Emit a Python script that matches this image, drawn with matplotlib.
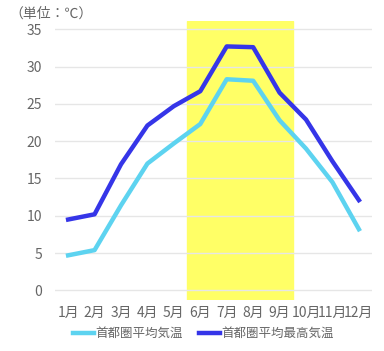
import matplotlib
matplotlib.use("Agg")
import matplotlib.pyplot as plt

plt.rcParams['font.family'] = ['Noto Sans CJK JP', 'DejaVu Sans']

months = ["1月", "2月", "3月", "4月", "5月", "6月", "7月", "8月", "9月", "10月", "11月", "12月"]
avg_temp = [4.7, 5.4, 11.4, 17.0, 19.7, 22.3, 28.3, 28.1, 22.8, 19.0, 14.5, 8.2]
max_temp = [9.5, 10.2, 16.9, 22.1, 24.7, 26.7, 32.7, 32.6, 26.5, 22.9, 17.3, 12.1]
y_ticks = [0, 5, 10, 15, 20, 25, 30, 35]

text_color = "#666666"

fig = plt.figure(figsize=(3.84, 3.51), dpi=100)
ax = fig.add_axes([0.143, 0.145, 0.826, 0.795])

x = list(range(1, len(months) + 1))

# summer highlight (Jun - Sep)
ax.axvspan(5.5, 9.5, color="#ffff66", zorder=0)

ax.plot(x, avg_temp, color="#5dd3f0", lw=3.2, label="首都圏平均気温", zorder=3,
        solid_joinstyle="round")
ax.plot(x, max_temp, color="#3535e8", lw=3.2, label="首都圏平均最高気温", zorder=3,
        solid_joinstyle="round")

ax.set_xlim(0.5, 12.5)
ax.set_ylim(-1.3, 36.1)
ax.set_xticks(x)
ax.set_xticklabels(months)
ax.set_yticks(y_ticks)
for y in y_ticks:
    ax.axhline(y, color="#e6e6e6", lw=1, zorder=1)

for s in ax.spines.values():
    s.set_visible(False)
ax.tick_params(length=0, colors=text_color, labelsize=10)
ax.tick_params(axis="y", pad=9)
ax.tick_params(axis="x", pad=4)

fig.text(0.025, 0.962, "（単位：℃）", color=text_color, fontsize=10, va="center", ha="left")

leg = fig.legend(loc="center", bbox_to_anchor=(0.53, 0.05), ncol=2, frameon=False,
                 fontsize=9, handlelength=1.7, handletextpad=0.1, columnspacing=1.3)
for t in leg.get_texts():
    t.set_color(text_color)

fig.savefig("out.png", dpi=100)
